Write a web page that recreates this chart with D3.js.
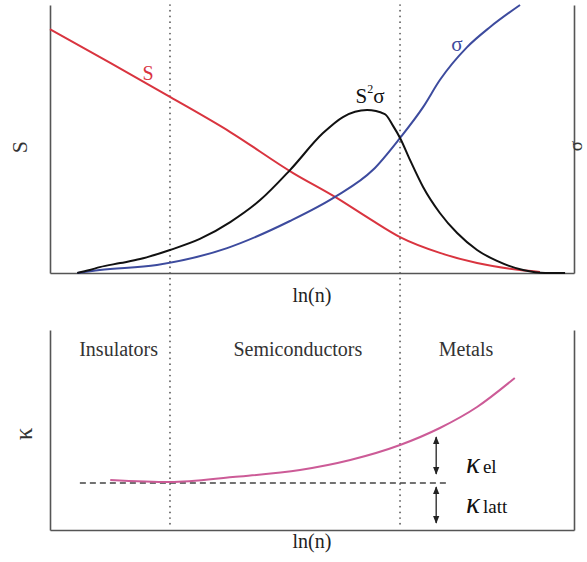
<!DOCTYPE html>
<html>
<head>
<meta charset="utf-8">
<script src="https://cdn.jsdelivr.net/npm/d3@7"></script>
<style>
  html, body { margin: 0; padding: 0; background: #fff; overflow: hidden; }
  svg { display: block; font-family: "Liberation Serif", "Times New Roman", serif; }
</style>
</head>
<body>
<svg id="chart" width="587" height="562"></svg>
<script>
// Carrier concentration axis: ln(n) in arbitrary units (0-100)
const seebeck = [
  [0, 91.0], [11.5, 78.4], [22.9, 65.7], [34.4, 52.6], [46.4, 37.3],
  [54.4, 28.4], [61.1, 20.1], [66.8, 13.4], [74.4, 7.5], [81.5, 3.7],
  [89.7, 1.1], [93.5, 0.4]
];
const powerFactor = [
  [5.2, 0], [7.6, 1.1], [9.5, 2.2], [13.4, 3.7], [17.2, 5.2], [22.9, 8.6],
  [28.6, 12.7], [34.4, 19.0], [40.1, 27.2], [45.8, 38.4], [52.1, 52.2],
  [55.9, 58.2], [60.5, 60.8], [63.9, 59.3], [65.5, 54.8], [66.8, 50.4],
  [68.7, 42.2], [71.2, 32.1], [74.4, 22.4], [77.7, 14.9], [81.5, 8.6],
  [85.3, 4.5], [90.3, 1.1], [94.5, 0], [98.3, 0]
];
const conductivity = [
  [5.2, 0], [9.5, 1.1], [20.4, 3.0], [33.8, 9.3], [45.8, 19.4],
  [54.4, 28.4], [61.6, 38.4], [66.8, 50.4], [71.2, 61.9], [74.4, 72.0],
  [79.6, 84.3], [84.0, 91.8], [89.7, 100]
];
const kappaTotal = [
  [11.5, 25], [22.9, 24], [34.9, 26.5], [47.7, 30], [57.3, 35],
  [66.8, 42.5], [74.4, 51], [81.5, 61.5], [88.7, 76]
];
const kappaLattice = 23.5;
const latticeSpan = [5.7, 75.8];
const regimeBounds = [22.9, 66.8];
const regimes = [
  { name: "Insulators", x: 13.1 },
  { name: "Semiconductors", x: 47.3 },
  { name: "Metals", x: 79.4 }
];
const xLabel = "ln(n)";

const svg = d3.select("#chart");

const x = d3.scaleLinear().domain([0, 100]).range([50, 574]);
const yTop = d3.scaleLinear().domain([0, 100]).range([273, 5]);
const yBot = d3.scaleLinear().domain([0, 100]).range([530, 330]);

const axisColor = "#555";

function frame(yScale) {
  const g = svg.append("g");
  const y0 = yScale.range()[0];
  g.append("g").attr("transform", `translate(0,${y0})`)
    .call(d3.axisBottom(x).ticks(0).tickSizeOuter(0));
  g.append("g").attr("transform", `translate(${x.range()[0]},0)`)
    .call(d3.axisLeft(yScale).ticks(0).tickSizeOuter(0));
  g.append("g").attr("transform", `translate(${x.range()[1]},0)`)
    .call(d3.axisRight(yScale).ticks(0).tickSizeOuter(0));
  g.selectAll(".domain").attr("stroke", axisColor).attr("stroke-width", 1.6);
}
frame(yTop);
frame(yBot);

// Regime boundaries spanning both panels
svg.append("g").selectAll("line").data(regimeBounds).join("line")
  .attr("x1", d => x(d)).attr("x2", d => x(d))
  .attr("y1", yTop(100)).attr("y2", 528)
  .attr("stroke", "#555").attr("stroke-width", 1.7)
  .attr("stroke-dasharray", "0.1,5.6").attr("stroke-linecap", "round");

const lineTop = d3.line().x(d => x(d[0])).y(d => yTop(d[1])).curve(d3.curveMonotoneX);
const lineBot = d3.line().x(d => x(d[0])).y(d => yBot(d[1])).curve(d3.curveMonotoneX);

svg.append("path").datum(seebeck).attr("d", lineTop)
  .attr("fill", "none").attr("stroke", "#d9343f").attr("stroke-width", 2);
svg.append("path").datum(conductivity).attr("d", lineTop)
  .attr("fill", "none").attr("stroke", "#3d4b9e").attr("stroke-width", 2);
svg.append("path").datum(powerFactor).attr("d", lineTop)
  .attr("fill", "none").attr("stroke", "#111").attr("stroke-width", 2);

// Curve labels
svg.append("text").attr("x", 148).attr("y", 80).attr("text-anchor", "middle")
  .attr("font-size", 20).attr("fill", "#d9343f").text("S");
svg.append("text").attr("x", 457).attr("y", 51).attr("text-anchor", "middle")
  .attr("font-size", 21).attr("fill", "#3d4b9e").text("σ");
const ps = svg.append("text").attr("x", 370).attr("y", 103).attr("text-anchor", "middle")
  .attr("font-size", 21).attr("fill", "#111");
ps.append("tspan").text("S");
ps.append("tspan").attr("font-size", 12).attr("dy", -10).text("2");
ps.append("tspan").attr("dy", 10).text("σ");

// Axis titles
svg.append("text").attr("x", 312).attr("y", 302).attr("text-anchor", "middle")
  .attr("font-size", 20).attr("fill", "#222").text(xLabel);
svg.append("text").attr("x", 312).attr("y", 548).attr("text-anchor", "middle")
  .attr("font-size", 20).attr("fill", "#222").text(xLabel);
svg.append("text").attr("transform", "translate(27,147) rotate(-90)")
  .attr("text-anchor", "middle").attr("font-size", 22).attr("fill", "#333").text("S");
svg.append("text").attr("transform", "translate(582,146) rotate(-90)")
  .attr("text-anchor", "middle").attr("font-size", 19).attr("fill", "#333").text("σ");
svg.append("text").attr("transform", "translate(32,434) rotate(-90)")
  .attr("text-anchor", "middle").attr("font-size", 25).attr("fill", "#333").text("κ");

// Regime names
svg.append("g").selectAll("text").data(regimes).join("text")
  .attr("x", d => x(d.x)).attr("y", 356).attr("text-anchor", "middle")
  .attr("font-size", 20).attr("fill", "#333").text(d => d.name);

// Thermal conductivity: lattice baseline and total
svg.append("line")
  .attr("x1", x(latticeSpan[0])).attr("x2", x(latticeSpan[1]))
  .attr("y1", yBot(kappaLattice)).attr("y2", yBot(kappaLattice))
  .attr("stroke", "#444").attr("stroke-width", 1.5).attr("stroke-dasharray", "6,4");
svg.append("path").datum(kappaTotal).attr("d", lineBot)
  .attr("fill", "none").attr("stroke", "#cc5b97").attr("stroke-width", 2);

// Double-headed arrows for electronic and lattice parts
const defs = svg.append("defs");
defs.append("marker").attr("id", "ah").attr("viewBox", "0 0 10 10")
  .attr("refX", 9).attr("refY", 5).attr("markerWidth", 6).attr("markerHeight", 6)
  .attr("orient", "auto-start-reverse")
  .append("path").attr("d", "M0,1 L10,5 L0,9 Z").attr("fill", "#222");
const arrowX = 73.7;
const arrows = [[46.5, 28], [21.5, 3.5]];
svg.append("g").selectAll("line").data(arrows).join("line")
  .attr("x1", x(arrowX)).attr("x2", x(arrowX))
  .attr("y1", d => yBot(d[0])).attr("y2", d => yBot(d[1]))
  .attr("stroke", "#222").attr("stroke-width", 1.3)
  .attr("marker-start", "url(#ah)").attr("marker-end", "url(#ah)");

const kLabels = [{ sub: "el", y: 473 }, { sub: "latt", y: 513 }];
kLabels.forEach(k => {
  const t = svg.append("text").attr("x", 466).attr("y", k.y).attr("fill", "#111");
  t.append("tspan").attr("font-size", 29).attr("font-style", "italic").text("κ");
  t.append("tspan").attr("font-size", 19).attr("dx", 3).text(k.sub);
});
</script>
</body>
</html>
